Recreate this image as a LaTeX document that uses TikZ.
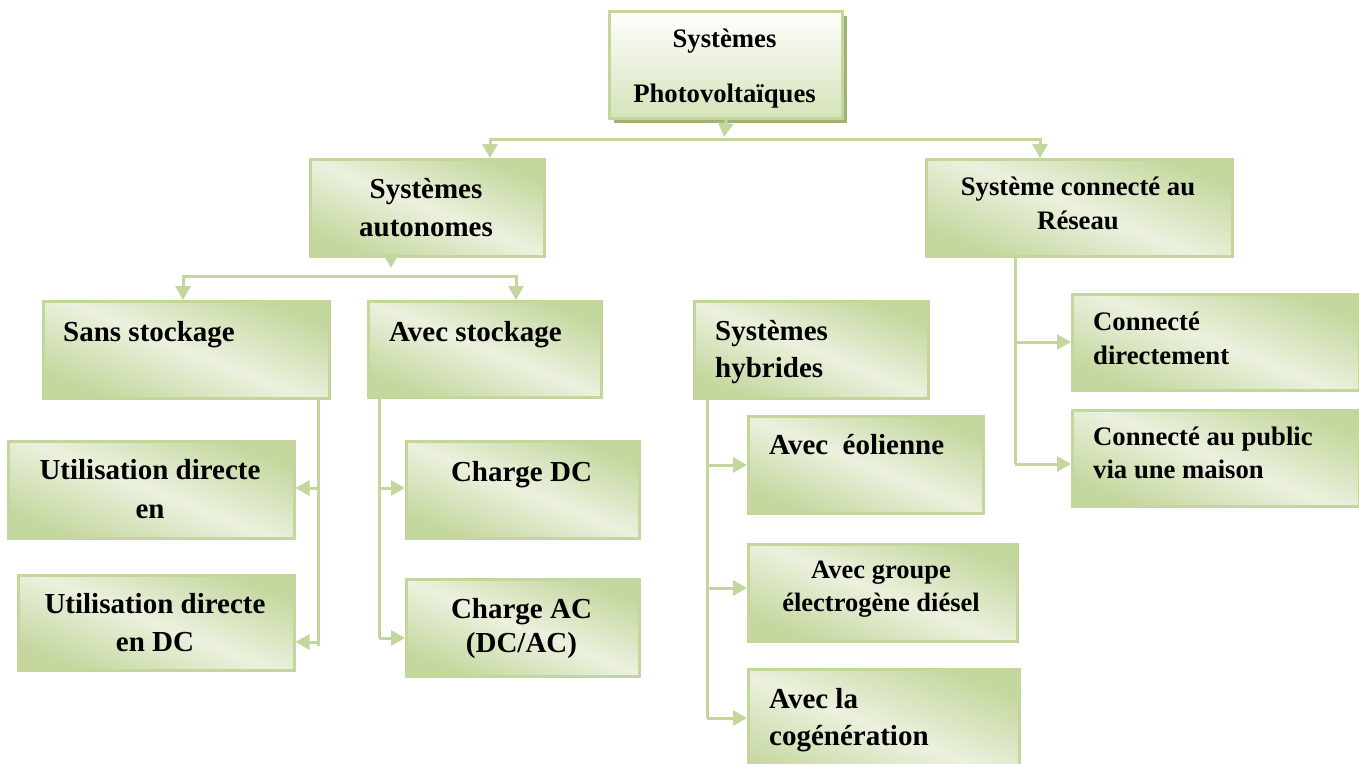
\documentclass[tikz,border=0pt]{standalone}
\usepackage{fontspec}
\setmainfont{Liberation Serif}
\usetikzlibrary{arrows.meta,shadows}

\definecolor{gEdge}{HTML}{C3D69B}
\definecolor{gDeep}{HTML}{C4D79E}
\definecolor{gPale}{HTML}{EBF1DE}
\definecolor{gBottom}{HTML}{D5E3B8}
\definecolor{gShadow}{HTML}{A0B272}

\newcommand{\fs}[2]{\bfseries\fontsize{#1}{#2}\selectfont}

\tikzset{
  box/.style={rectangle, draw=gEdge, line width=2.5pt, inner sep=0pt,
    anchor=north west,
    top color=gDeep, bottom color=gDeep, middle color=gPale, shading angle=-22},
  headbox/.style={rectangle, draw=gEdge, line width=3pt, inner sep=0pt,
    anchor=north west, top color=white, bottom color=gBottom,
    general shadow={fill=gShadow, shadow xshift=4pt, shadow yshift=-4pt}},
  txt/.style={inner sep=0pt, text=black},
  conn/.style={draw=gEdge, line width=3pt},
  tip/.style={-{Triangle[length=14pt,width=15pt]}},
  tips/.style={{Triangle[length=14pt,width=15pt]}-{Triangle[length=14pt,width=15pt]}}
}

\begin{document}
\begin{tikzpicture}[x=1pt,y=-1pt]
\clip (0,0) rectangle (1359,763);
\fill[white] (0,0) rectangle (1359,763);

% ---- boxes ----
\node[headbox, minimum width=233pt, minimum height=107pt] (top) at (608,10) {};
\node[box, minimum width=234pt, minimum height=97pt] (auto) at (309,158) {};
\node[box, minimum width=306pt, minimum height=97pt] (res)  at (925,158) {};
\node[box, minimum width=286pt, minimum height=97pt] (sans) at (42,300) {};
\node[box, minimum width=233pt, minimum height=96pt] (avec) at (367,300) {};
\node[box, minimum width=234pt, minimum height=97pt] (hyb)  at (693,300) {};
\node[box, minimum width=287pt, minimum height=96pt] (cd)   at (1071,293) {};
\node[box, minimum width=287pt, minimum height=96pt] (cp)   at (1071,409) {};
\node[box, minimum width=286pt, minimum height=97pt] (util1) at (7,440) {};
\node[box, minimum width=276pt, minimum height=95pt] (util2) at (17,574) {};
\node[box, minimum width=233pt, minimum height=97pt] (cdc)  at (405,440) {};
\node[box, minimum width=233pt, minimum height=97pt] (cac)  at (405,578) {};
\node[box, minimum width=235pt, minimum height=97pt] (eol)  at (747,415) {};
\node[box, minimum width=269pt, minimum height=97pt] (grp)  at (747,543) {};
\node[box, minimum width=271pt, minimum height=122pt] (cog) at (747,668) {};

% ---- texts (base anchor = baseline of the last line) ----
\node[txt, font=\fs{26.7}{55}, align=center, anchor=base] (top-t) at (724.5,102) {Systèmes\\Photovoltaïques};
\node[txt, font=\fs{29}{38}, align=center, anchor=base] (auto-t) at (426,236) {Systèmes\\autonomes};
\node[txt, font=\fs{26.7}{34}, align=center, anchor=base] (res-t) at (1078,229) {Système connecté au\\Réseau};
\node[txt, font=\fs{29}{38}, anchor=base west] (sans-t) at (63,341) {Sans stockage};
\node[txt, font=\fs{29}{38}, anchor=base west] (avec-t) at (389,341) {Avec stockage};
\node[txt, font=\fs{29}{37}, align=left, anchor=base west] (hyb-t) at (715,377) {Systèmes\\hybrides};
\node[txt, font=\fs{26.7}{34}, align=left, anchor=base west] (cd-t) at (1093,364) {Connecté\\directement};
\node[txt, font=\fs{26.7}{33}, align=left, anchor=base west] (cp-t) at (1093,478) {Connecté au public\\via une maison};
\node[txt, font=\fs{29}{39}, align=center, anchor=base] (util1-t) at (150,518) {Utilisation directe\\en};
\node[txt, font=\fs{29}{38}, align=center, anchor=base] (util2-t) at (155,651) {Utilisation directe\\en DC};
\node[txt, font=\fs{29}{38}, anchor=base] (cdc-t) at (521.5,481) {Charge DC};
\node[txt, font=\fs{29}{34}, align=center, anchor=base] (cac-t) at (521.5,652) {Charge AC\\(DC/AC)};
\node[txt, font=\fs{29}{38}, anchor=base west] (eol-t) at (769,454) {Avec\ \ éolienne};
\node[txt, font=\fs{26.5}{33}, align=center, anchor=base] (grp-t) at (881,611) {Avec groupe\\électrogène diésel};
\node[txt, font=\fs{29}{37}, align=left, anchor=base west] (cog-t) at (769,745) {Avec la\\cogénération};

% ---- first level ----
\coordinate (hTip) at (724,137);
\coordinate (hL) at (490,139);
\coordinate (hR) at (1040,139);
\draw[conn, tip] (top.south) -- (hTip);
\draw[conn, tips] (hL |- auto.north) -- (hL) -- (hR) -- (hR |- res.north);

% ---- second level ----
\coordinate (aStem) at (391,255);
\coordinate (aTip) at (391,268);
\coordinate (sL) at (183,276);
\coordinate (sR) at (516,276);
\draw[conn, tip] (aStem) -- (aTip);
\draw[conn, tips] (sL |- sans.north) -- (sL) -- (sR) -- (sR |- avec.north);

% ---- sans stockage branch ----
\coordinate (sv0) at (318,399);
\coordinate (sv1) at (318,488);
\coordinate (sv2) at (318,642);
\coordinate (sv3) at (318,646);
\draw[conn] (sv0) -- (sv3);
\draw[conn, tip] (sv1) -- (sv1 -| util1.east);
\draw[conn, tip] (sv2) -- (sv2 -| util2.east);

% ---- avec stockage branch ----
\coordinate (av0) at (379,396);
\coordinate (av1) at (379,488);
\coordinate (av2) at (379,638);
\draw[conn] (av0) -- (av2);
\draw[conn, tip] (av1) -- (av1 -| cdc.west);
\draw[conn, tip] (av2) -- (av2 -| cac.west);

% ---- hybrid branch ----
\coordinate (hv0) at (707,397);
\coordinate (hv1) at (707,465);
\coordinate (hv2) at (707,588);
\coordinate (hv3) at (707,718);
\draw[conn] (hv0) -- (hv3);
\draw[conn, tip] (hv1) -- (hv1 -| eol.west);
\draw[conn, tip] (hv2) -- (hv2 -| grp.west);
\draw[conn, tip] (hv3) -- (hv3 -| cog.west);

% ---- grid branch ----
\coordinate (rv0) at (1015,255);
\coordinate (rv1) at (1015,342);
\coordinate (rv2) at (1015,464);
\draw[conn] (rv0) -- (rv2);
\draw[conn, tip] (rv1) -- (rv1 -| cd.west);
\draw[conn, tip] (rv2) -- (rv2 -| cp.west);
\end{tikzpicture}
\end{document}
